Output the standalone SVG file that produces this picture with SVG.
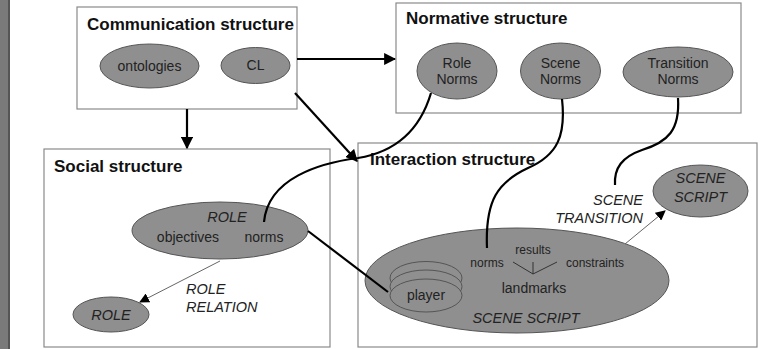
<svg xmlns="http://www.w3.org/2000/svg" width="761" height="349" viewBox="0 0 761 349">
<defs>
<style>
.box{fill:#fff;stroke:#8a8a8a;stroke-width:1.2}
.el{fill:#8f8f8f;stroke:#555;stroke-width:1}
.title{font-family:"Liberation Sans",Arial,sans-serif;font-weight:bold;font-size:17px;fill:#111}
.t{font-family:"Liberation Sans",Arial,sans-serif;font-size:14px;fill:#222;text-anchor:middle}
.s{font-family:"Liberation Sans",Arial,sans-serif;font-size:12px;fill:#222;text-anchor:middle}
.i{font-family:"Liberation Sans",Arial,sans-serif;font-style:italic;font-size:14.5px;fill:#222}
.c{fill:none;stroke:#000;stroke-width:2.2}
.thin{fill:none;stroke:#666;stroke-width:1}
</style>
<marker id="ah" viewBox="0 0 10 10" refX="9" refY="5" markerWidth="5.5" markerHeight="5.5" orient="auto" markerUnits="strokeWidth"><path d="M0,0 L10,5 L0,10 z" fill="#000"/></marker>
<marker id="ahs" viewBox="0 0 10 10" refX="9" refY="5" markerWidth="10" markerHeight="10" orient="auto" markerUnits="strokeWidth"><path d="M0,0 L10,5 L0,10 z" fill="#000"/></marker>
</defs>
<rect x="0" y="0" width="761" height="349" fill="#fff"/>
<rect x="0" y="0" width="8" height="349" fill="#7a7a7a"/>
<rect x="8" y="0" width="2" height="349" fill="#555"/>

<g id="communication">
<rect class="box" x="77" y="7" width="220" height="102"/>
<text class="title" x="87" y="30">Communication structure</text>
</g>
<g id="ontologies"><ellipse class="el" cx="149.5" cy="66" rx="49.5" ry="22"/><text class="t" x="149.5" y="71">ontologies</text></g>
<g id="cl"><ellipse class="el" cx="255.5" cy="65.5" rx="34.5" ry="18"/><text class="t" x="255.5" y="70">CL</text></g>

<g id="normative">
<rect class="box" x="396" y="3" width="345" height="110"/>
<text class="title" x="406" y="24">Normative structure</text>
</g>
<g id="role-norms"><ellipse class="el" cx="457" cy="71" rx="40" ry="28"/><text class="t" x="457" y="68">Role</text><text class="t" x="457" y="84">Norms</text></g>
<g id="scene-norms"><ellipse class="el" cx="560.5" cy="71" rx="40" ry="28"/><text class="t" x="560.5" y="68">Scene</text><text class="t" x="560.5" y="84">Norms</text></g>
<g id="transition-norms"><ellipse class="el" cx="678" cy="72" rx="55" ry="25"/><text class="t" x="678" y="68">Transition</text><text class="t" x="678" y="84">Norms</text></g>

<g id="social">
<rect class="box" x="44" y="149" width="286" height="198"/>
<text class="title" x="54" y="172">Social structure</text>
</g>
<g id="role"><ellipse class="el" cx="220" cy="230.5" rx="88" ry="28.5"/>
<text class="i" x="227" y="222" text-anchor="middle">ROLE</text>
<text class="t" x="188" y="242">objectives</text>
<text class="t" x="264" y="242">norms</text></g>
<g id="role2"><ellipse class="el" cx="111" cy="314.5" rx="38" ry="17.5"/><text class="i" x="111" y="320" text-anchor="middle">ROLE</text></g>
<g id="role-relation-label"><text class="i" x="186" y="294">ROLE</text><text class="i" x="186" y="312">RELATION</text></g>

<g id="interaction">
<rect class="box" x="358" y="143" width="399" height="204"/>
<text class="title" x="370" y="165">Interaction structure</text>
</g>
<g id="scene-script"><ellipse class="el" cx="517" cy="280.5" rx="152" ry="52.5"/>
<text class="s" x="487" y="267">norms</text>
<text class="s" x="533" y="254">results</text>
<text class="s" x="595" y="267">constraints</text>
<path d="M513,262 L533,274 L557,262 M533,262 L533,274" fill="none" stroke="#333" stroke-width="1"/>
<text class="t" x="534" y="293">landmarks</text>
<text class="i" x="526" y="323" text-anchor="middle" font-size="16">SCENE SCRIPT</text></g>
<g id="player">
<ellipse class="el" cx="426" cy="278" rx="36" ry="16.5"/>
<ellipse class="el" cx="426" cy="286.5" rx="36" ry="16.5"/>
<ellipse class="el" cx="426" cy="295.5" rx="36" ry="16.5"/>
<text class="t" x="426" y="300" font-size="15">player</text></g>
<g id="scene-script-2"><ellipse class="el" cx="700.5" cy="191" rx="47.5" ry="26"/><text class="i" x="700.5" y="183" text-anchor="middle">SCENE</text><text class="i" x="700.5" y="202" text-anchor="middle">SCRIPT</text></g>
<g id="scene-transition-label"><text class="i" x="643" y="205" text-anchor="end">SCENE</text><text class="i" x="643" y="223" text-anchor="end">TRANSITION</text></g>

<g id="connectors">
<line class="c" x1="297" y1="59" x2="395" y2="59" marker-end="url(#ah)"/>
<line class="c" x1="187" y1="109" x2="187" y2="148" marker-end="url(#ah)"/>
<line class="c" x1="295" y1="93" x2="357" y2="161" marker-end="url(#ah)"/>
<path class="c" d="M431,93 C420,130 395,152 358,158 C320,163 268,178 264,222"/>
<path class="c" d="M562,99 C566,135 558,155 528,168 C498,182 485,200 487,248"/>
<path class="c" d="M678,98 C680,130 668,142 642,150 C622,157 614,168 615,185"/>
<line class="c" x1="308" y1="231" x2="388" y2="292"/>
<line class="thin" x1="220" y1="261" x2="140" y2="302" marker-end="url(#ahs)"/>
<line class="thin" x1="625" y1="244" x2="665" y2="211" marker-end="url(#ahs)"/>
</g>
</svg>
